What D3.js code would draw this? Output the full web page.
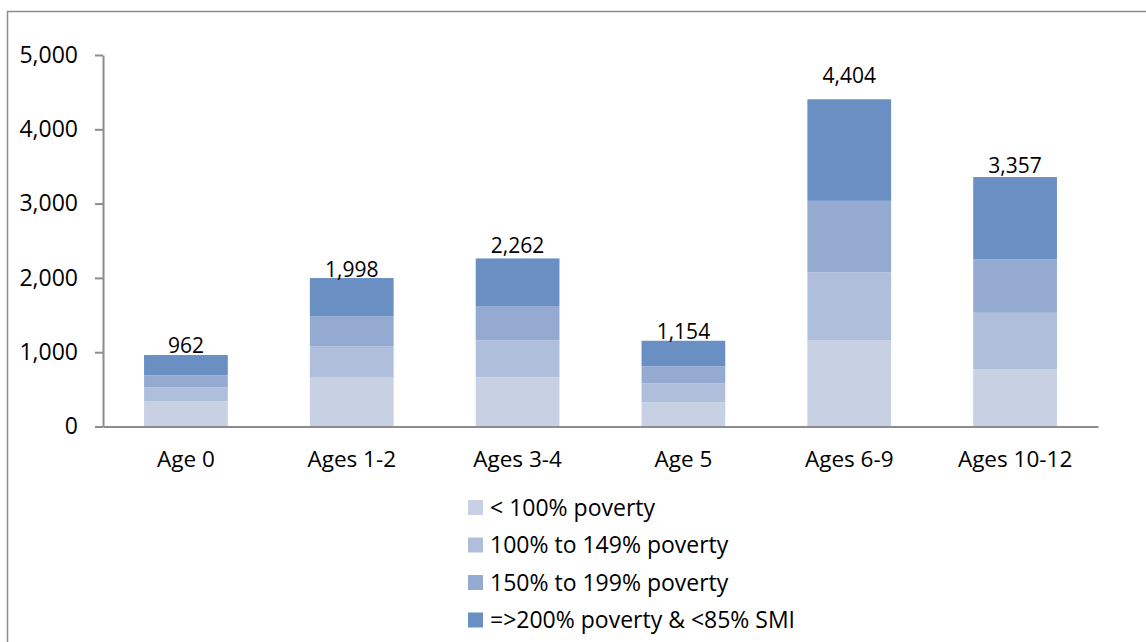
<!DOCTYPE html>
<html>
<head>
<meta charset="utf-8">
<script src="https://cdn.jsdelivr.net/npm/d3@7"></script>
<style>
  body { margin: 0; background: #fff; }
  svg { display: block; font-family: "Open Sans", "Noto Sans", sans-serif; }
</style>
</head>
<body>
<div class="chart"></div>
<script>
/* Stacked bars: children by age group and poverty level. */

var categories = ["Age 0", "Ages 1-2", "Ages 3-4", "Age 5", "Ages 6-9", "Ages 10-12"];
var seriesNames = ["< 100% poverty", "100% to 149% poverty", "150% to 199% poverty", "=>200% poverty & <85% SMI"];
var below100 = [338, 666, 662, 324, 1158, 770];
var from100to149 = [189, 415, 500, 257, 915, 761];
var from150to199 = [162, 405, 459, 230, 964, 720];
var over200 = [273, 512, 641, 343, 1367, 1106];
var totals = [962, 1998, 2262, 1154, 4404, 3357];
var yTicks = [0, 1000, 2000, 3000, 4000, 5000];

var colors = ["#c8d1e4", "#afbfdb", "#95aad1", "#6a8fc3"];
// extra lift for the total labels (px), the 4,404 one sits higher in the original
var labelLift = [2, 1, 5, 2, 16, 4];

var width = 1146, height = 642;
var margin = {top: 55, right: 48, bottom: 216, left: 103};

var svg = d3.select(".chart")
    .append("svg")
    .attr("width", width)
    .attr("height", height);

// chart frame
svg.append("rect")
  .attr("x", 7.5).attr("y", 11.5)
  .attr("width", width + 10).attr("height", height)
  .style("fill", "none")
  .style("stroke", "#8c8c8c")
  .style("stroke-width", 1.5);

var x = d3.scaleBand()
    .domain(categories)
    .range([margin.left, width - margin.right])
    .paddingInner(0.495)
    .paddingOuter(0.2475);

var y = d3.scaleLinear()
    .domain([0, 5000])
    .range([height - margin.bottom + 0.5, margin.top]);

var rows = categories.map(function (c, i) {
  return {cat: c, s0: below100[i], s1: from100to149[i], s2: from150to199[i], s3: over200[i]};
});

var stack = d3.stack().keys(["s0", "s1", "s2", "s3"]);
var layers = stack(rows);

svg.append("g")
  .selectAll("g")
  .data(layers)
  .enter()
  .append("g")
  .style("fill", function (d, i) { return colors[i]; })
  .selectAll("rect")
  .data(function (d) { return d; })
  .enter()
  .append("rect")
  .attr("x", function (d) { return x(d.data.cat); })
  .attr("y", function (d) { return y(d[1]); })
  .attr("width", x.bandwidth())
  .attr("height", function (d) { return y(d[0]) - y(d[1]); });

// y axis
var yAxis = svg.append("g")
  .attr("transform", "translate(" + margin.left + ",0)")
  .call(d3.axisLeft(y).tickValues(yTicks).tickFormat(d3.format(",")).tickSize(8).tickSizeOuter(0).tickPadding(17));

yAxis.select(".domain").style("stroke", "#8c8c8c").style("stroke-width", 2);
yAxis.selectAll(".tick line").style("stroke", "#8c8c8c").style("stroke-width", 2);
yAxis.selectAll("text").style("font-size", "23px").style("fill", "#000")
  .style("font-family", "'Open Sans', sans-serif");

// x axis
var xAxis = svg.append("g")
  .attr("transform", "translate(0," + (height - margin.bottom + 0.5) + ")")
  .call(d3.axisBottom(x).tickSize(0).tickSizeOuter(0).tickPadding(25));

xAxis.select(".domain").style("stroke", "#8c8c8c").style("stroke-width", 2);
xAxis.selectAll("text").style("font-size", "22.5px").style("fill", "#000")
  .style("font-family", "'Open Sans', sans-serif");

// total labels
svg.append("g")
  .selectAll("text")
  .data(totals)
  .enter()
  .append("text")
  .attr("x", function (d, i) { return x(categories[i]) + x.bandwidth() / 2; })
  .attr("y", function (d, i) { return y(d) - labelLift[i]; })
  .attr("text-anchor", "middle")
  .style("font-size", "21px")
  .style("fill", "#000")
  .text(function (d) { return d3.format(",")(d); });

// legend
var legend = svg.append("g")
  .attr("transform", "translate(468,500)");

var item = legend.selectAll("g")
  .data(seriesNames)
  .enter()
  .append("g")
  .attr("transform", function (d, i) { return "translate(0," + (i * 37.5) + ")"; });

item.append("rect")
  .attr("width", 15).attr("height", 15)
  .style("fill", function (d, i) { return colors[i]; });

item.append("text")
  .attr("x", 22)
  .attr("y", 15.5)
  .style("font-size", "23px")
  .style("fill", "#000")
  .text(function (d) { return d; });

</script>
</body>
</html>
